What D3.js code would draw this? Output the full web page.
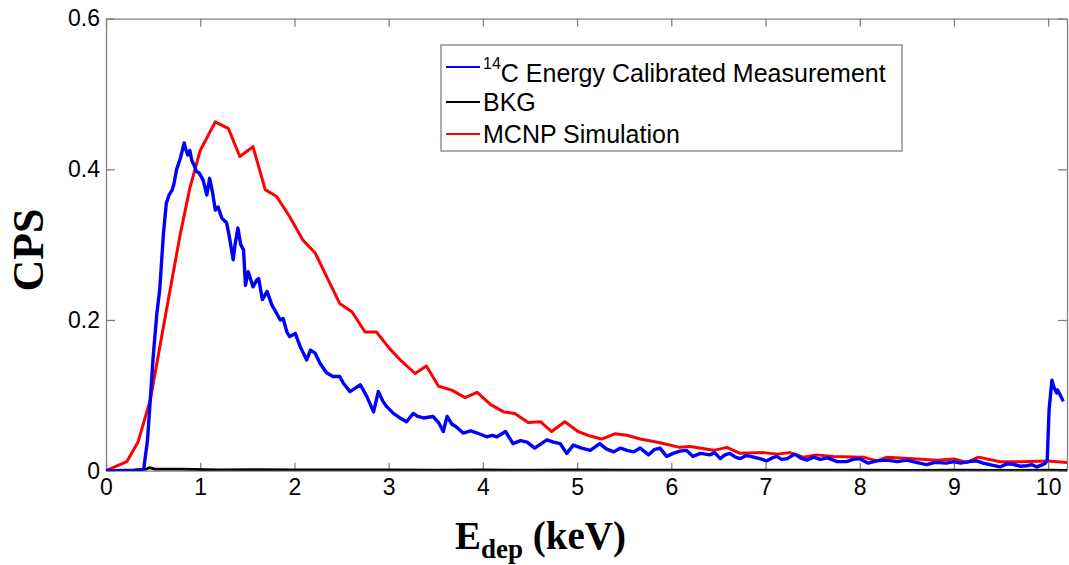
<!DOCTYPE html>
<html>
<head>
<meta charset="utf-8">
<script src="https://cdn.jsdelivr.net/npm/d3@7"></script>
<style>
  body { margin: 0; background: #fff; }
  .axis text { font-family: "Liberation Sans", Arial, sans-serif; font-size: 23px; fill: #000; }
  .axis path, .axis line { stroke: #808080; stroke-width: 1.3px; }
</style>
</head>
<body>
<div id="chart"></div>
<script>
// measured spectrum (blue)
var measE = [0, 0.38, 0.40, 0.44, 0.47, 0.50, 0.54, 0.57, 0.61, 0.64, 0.67, 0.70, 0.72, 0.75, 0.79, 0.81, 0.83, 0.85, 0.87, 0.89,
  0.91, 0.94, 0.96, 0.99, 1.03, 1.07, 1.10, 1.13, 1.16, 1.19, 1.23, 1.28, 1.31, 1.35, 1.37, 1.40, 1.43, 1.46, 1.48, 1.51,
  1.56, 1.60, 1.62, 1.66, 1.71, 1.76, 1.81, 1.85, 1.88, 1.92, 1.95, 2.01, 2.06, 2.13, 2.17, 2.22, 2.27, 2.34, 2.41, 2.48,
  2.52, 2.59, 2.65, 2.70, 2.77, 2.84, 2.89, 2.94, 2.98, 3.05, 3.12, 3.19, 3.26, 3.31, 3.37, 3.47, 3.53, 3.58, 3.62, 3.67,
  3.72, 3.79, 3.87, 3.94, 4.04, 4.10, 4.15, 4.24, 4.32, 4.40, 4.47, 4.55, 4.62, 4.68, 4.75, 4.82, 4.89, 4.96, 5.05, 5.14,
  5.24, 5.31, 5.39, 5.46, 5.53, 5.60, 5.67, 5.76, 5.82, 5.88, 5.95, 6.02, 6.09, 6.16, 6.23, 6.31, 6.41, 6.46, 6.52, 6.57,
  6.62, 6.68, 6.73, 6.79, 6.84, 6.94, 7.01, 7.07, 7.12, 7.17, 7.23, 7.31, 7.37, 7.44, 7.51, 7.58, 7.66, 7.76, 7.86, 7.93,
  8.00, 8.09, 8.18, 8.29, 8.40, 8.50, 8.60, 8.71, 8.80, 8.92, 9.00, 9.07, 9.16, 9.24, 9.31, 9.38, 9.49, 9.56, 9.63, 9.70,
  9.77, 9.83, 9.88, 9.94, 9.97, 9.99, 10.01, 10.04, 10.06, 10.09, 10.10, 10.13, 10.16];
var measCps = [0, 0, 0.002, 0.04, 0.094, 0.15, 0.209, 0.24, 0.315, 0.355, 0.366, 0.372, 0.38, 0.40, 0.415, 0.425, 0.435, 0.425, 0.419, 0.425,
  0.412, 0.404, 0.397, 0.395, 0.386, 0.366, 0.388, 0.37, 0.346, 0.35, 0.335, 0.329, 0.31, 0.28, 0.30, 0.322, 0.30, 0.293, 0.246, 0.264,
  0.244, 0.253, 0.255, 0.227, 0.238, 0.220, 0.209, 0.200, 0.202, 0.184, 0.178, 0.182, 0.165, 0.147, 0.160, 0.156, 0.143, 0.130, 0.125, 0.125,
  0.116, 0.105, 0.110, 0.114, 0.098, 0.078, 0.105, 0.092, 0.085, 0.076, 0.070, 0.065, 0.076, 0.072, 0.070, 0.072, 0.064, 0.052, 0.072, 0.062,
  0.058, 0.050, 0.053, 0.050, 0.045, 0.047, 0.045, 0.052, 0.036, 0.040, 0.038, 0.030, 0.036, 0.041, 0.038, 0.036, 0.023, 0.034, 0.030, 0.027,
  0.036, 0.029, 0.025, 0.030, 0.027, 0.025, 0.030, 0.021, 0.028, 0.030, 0.019, 0.023, 0.026, 0.027, 0.019, 0.023, 0.021, 0.024, 0.016, 0.021,
  0.023, 0.018, 0.016, 0.020, 0.019, 0.016, 0.013, 0.017, 0.019, 0.015, 0.016, 0.022, 0.017, 0.014, 0.018, 0.015, 0.017, 0.012, 0.012, 0.015,
  0.016, 0.010, 0.013, 0.014, 0.012, 0.014, 0.011, 0.008, 0.011, 0.010, 0.012, 0.010, 0.012, 0.013, 0.010, 0.008, 0.005, 0.009, 0.0085, 0.006,
  0.0066, 0.008, 0.005, 0.008, 0.010, 0.014, 0.081, 0.12, 0.111, 0.103, 0.107, 0.100, 0.092];

// background (black)
var bkgE   = [0, 0.3, 0.42, 0.46, 0.52, 0.8, 1.2, 1.6, 2.0, 2.5, 3.0, 3.5, 4.0, 4.5, 5.0, 5.5, 6.0, 6.5, 7.0, 7.5, 8.0, 8.5, 9.0, 9.5, 10.0, 10.2];
var bkgCps = [0, 0.001, 0.002, 0.004, 0.002, 0.002, 0.001, 0.0015, 0.001, 0.0012, 0.001, 0.0008, 0.001, 0.0008, 0.0009, 0.0007, 0.0008, 0.0006,
  0.0007, 0.0006, 0.0006, 0.0005, 0.0006, 0.0005, 0.0006, 0.0004];

// MCNP simulation (red)
var simE   = [0, 0.22, 0.34, 0.47, 0.66, 0.79, 0.89, 1.00, 1.16, 1.30, 1.42, 1.56, 1.69, 1.81, 1.95, 2.09, 2.22, 2.48, 2.61, 2.75,
  2.87, 3.01, 3.14, 3.28, 3.40, 3.53, 3.67, 3.81, 3.94, 4.08, 4.22, 4.34, 4.48, 4.61, 4.73, 4.87, 5.01, 5.14, 5.26, 5.40,
  5.53, 5.67, 5.88, 6.09, 6.20, 6.45, 6.59, 6.73, 6.98, 7.12, 7.26, 7.40, 7.54, 7.72, 8.04, 8.18, 8.29, 8.57, 8.82, 9.00,
  9.14, 9.26, 9.49, 9.70, 9.99, 10.2];
var simCps = [0, 0.012, 0.038, 0.094, 0.226, 0.315, 0.375, 0.425, 0.463, 0.454, 0.417, 0.430, 0.373, 0.364, 0.337, 0.306, 0.289, 0.222, 0.211, 0.184,
  0.184, 0.162, 0.145, 0.129, 0.139, 0.112, 0.107, 0.097, 0.104, 0.088, 0.078, 0.076, 0.064, 0.065, 0.052, 0.065, 0.052, 0.046, 0.042, 0.049,
  0.047, 0.042, 0.037, 0.031, 0.032, 0.027, 0.031, 0.023, 0.024, 0.022, 0.024, 0.018, 0.021, 0.019, 0.018, 0.013, 0.018, 0.016, 0.014, 0.0155,
  0.011, 0.018, 0.012, 0.012, 0.013, 0.011];

var xTicks = [0, 1, 2, 3, 4, 5, 6, 7, 8, 9, 10];
var yTicks = [0, 0.2, 0.4, 0.6];
var yTickLabels = ['0', '0.2', '0.4', '0.6'];

var width  = 1069,
    height = 565,
    margin = {top: 18.6, right: 2, bottom: 94.3, left: 106};

var svg = d3.select('#chart')
  .append('svg')
  .attr('width', width)
  .attr('height', height);

var x = d3.scaleLinear().domain([0, 10.2]).range([margin.left, width - margin.right]);
var y = d3.scaleLinear().domain([0, 0.6]).range([height - margin.bottom, margin.top]);

svg.append('defs').append('clipPath')
  .attr('id', 'plot')
  .append('rect')
  .attr('x', x(0))
  .attr('y', y(0.6))
  .attr('width', x(10.2) - x(0))
  .attr('height', y(0) - y(0.6));

// box axes, ticks pointing inward like matlab
svg.append('g')
  .attr('class', 'axis')
  .attr('transform', 'translate(0,' + y(0) + ')')
  .call(d3.axisBottom(x).tickValues(xTicks).tickSizeInner(-8).tickSizeOuter(0).tickPadding(8).tickFormat(d3.format('d')));

svg.append('g')
  .attr('class', 'axis')
  .attr('transform', 'translate(0,' + y(0.6) + ')')
  .call(d3.axisTop(x).tickValues(xTicks).tickSizeInner(-8).tickSizeOuter(0).tickFormat(''));

svg.append('g')
  .attr('class', 'axis')
  .attr('transform', 'translate(' + x(0) + ',0)')
  .call(d3.axisLeft(y).tickValues(yTicks).tickSizeInner(-9).tickSizeOuter(0).tickPadding(6)
    .tickFormat(function(d, i) { return yTickLabels[i]; }));

svg.append('g')
  .attr('class', 'axis')
  .attr('transform', 'translate(' + x(10.2) + ',0)')
  .call(d3.axisRight(y).tickValues(yTicks).tickSizeInner(-9).tickSizeOuter(0).tickFormat(''));

var line = d3.line()
  .x(function(d) { return x(d[0]); })
  .y(function(d) { return y(d[1]); });

var series = [
  {name: 'bkg',  e: bkgE,  c: bkgCps,  color: '#000000', w: 2.8},
  {name: 'sim',  e: simE,  c: simCps,  color: '#ff0000', w: 3},
  {name: 'meas', e: measE, c: measCps, color: '#0000ff', w: 3.4}
];

var plot = svg.append('g').attr('clip-path', 'url(#plot)');

series.forEach(function(s) {
  plot.append('path')
    .datum(d3.zip(s.e, s.c))
    .attr('fill', 'none')
    .attr('stroke', s.color)
    .attr('stroke-width', s.w)
    .attr('stroke-linejoin', 'round')
    .attr('d', line);
});

// legend
var legend = svg.append('g').attr('transform', 'translate(441,45)');

legend.append('rect')
  .attr('x', 0)
  .attr('y', 0)
  .attr('width', 461)
  .attr('height', 106)
  .attr('fill', '#fff')
  .attr('stroke', '#808080')
  .attr('stroke-width', 1.3);

var items = [
  {color: '#0000ff', ly: 22, ty: 37},
  {color: '#000000', ly: 57, ty: 66},
  {color: '#ff0000', ly: 89, ty: 98}
];

items.forEach(function(it) {
  legend.append('line')
    .attr('x1', 5)
    .attr('x2', 39)
    .attr('y1', it.ly)
    .attr('y2', it.ly)
    .attr('stroke', it.color)
    .attr('stroke-width', 2);
});

var legendFont = '"Liberation Sans", Arial, sans-serif';

var t1 = legend.append('text')
  .attr('x', 42)
  .attr('y', items[0].ty)
  .attr('font-family', legendFont)
  .attr('font-size', 25);
t1.append('tspan').attr('font-size', 16).attr('dy', -13).text('14');
t1.append('tspan').attr('dy', 13).text('C Energy Calibrated Measurement');

legend.append('text')
  .attr('x', 42)
  .attr('y', items[1].ty)
  .attr('font-family', legendFont)
  .attr('font-size', 25)
  .text('BKG');

legend.append('text')
  .attr('x', 42)
  .attr('y', items[2].ty)
  .attr('font-family', legendFont)
  .attr('font-size', 25)
  .text('MCNP Simulation');

// axis titles
svg.append('text')
  .attr('transform', 'translate(43,250) rotate(-90)')
  .attr('text-anchor', 'middle')
  .attr('font-family', '"Liberation Serif", "Times New Roman", serif')
  .attr('font-weight', 'bold')
  .attr('font-size', 44)
  .text('CPS');

var xl = svg.append('text')
  .attr('x', 455)
  .attr('y', 549)
  .attr('font-family', '"Liberation Serif", "Times New Roman", serif')
  .attr('font-weight', 'bold')
  .attr('font-size', 39);
xl.append('tspan').text('E');
xl.append('tspan').attr('font-size', 27).attr('dy', 9).text('dep');
xl.append('tspan').attr('dy', -9).text(' (keV)');
</script>
</body>
</html>
